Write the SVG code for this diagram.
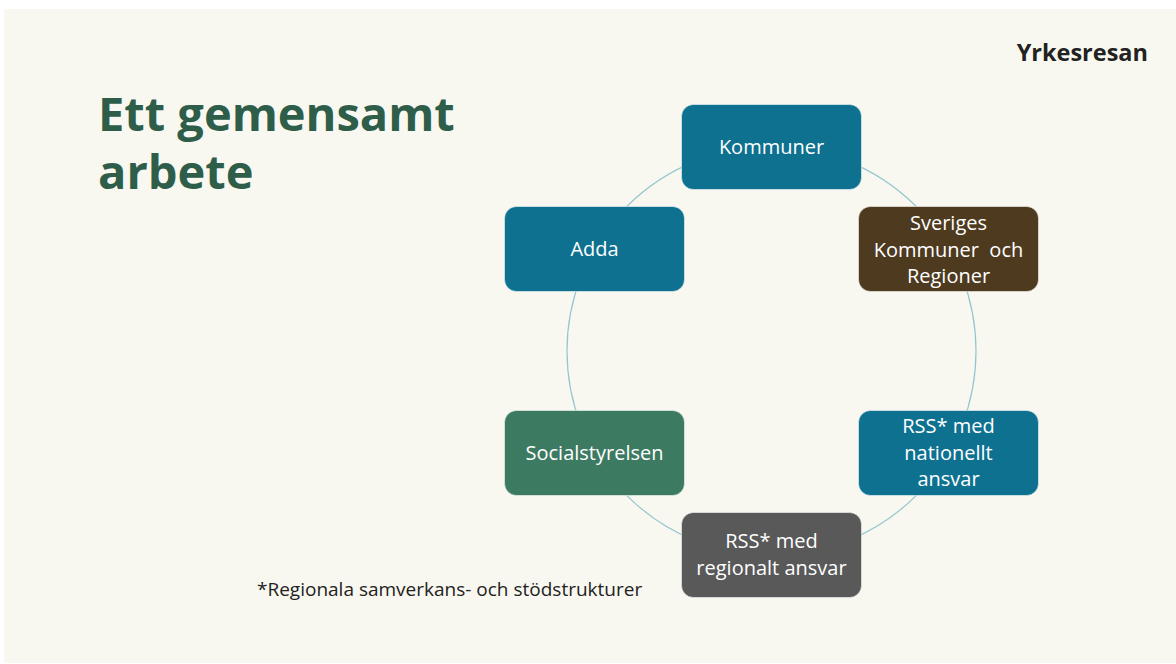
<svg xmlns="http://www.w3.org/2000/svg" width="1176" height="664" viewBox="0 0 1176 664">
<style>
.node rect{stroke:#ffffff;stroke-opacity:0.55;stroke-width:1}
.lbl{font-family:"Open Sans","Liberation Sans",sans-serif;font-size:20px;fill:#ffffff;text-anchor:middle}
.title{font-family:"Open Sans","Liberation Sans",sans-serif;font-weight:bold;font-size:47px;fill:#2e5e4a}
</style>
<rect x="0" y="0" width="1176" height="664" fill="#ffffff"/>
<rect x="4" y="9" width="1172" height="654" fill="#f9f8f0"/>
<text class="title" x="98" y="131">Ett gemensamt</text>
<text class="title" x="98" y="189">arbete</text>
<text x="1148" y="61" text-anchor="end" font-family="Open Sans, Liberation Sans, sans-serif" font-weight="bold" font-size="23.5" fill="#222222">Yrkesresan</text>
<text x="257" y="596" font-family="Open Sans, Liberation Sans, sans-serif" font-size="19" fill="#222222">*Regionala samverkans- och stödstrukturer</text>
<g id="connectors">
<circle cx="771.5" cy="351" r="204.5" fill="none" stroke="#94c6cf" stroke-width="1.2"/>
</g>
<g id="kommuner" class="node">
<rect x="681.5" y="104.5" width="180" height="85" rx="12" fill="#0e7190"/>
<text class="lbl" x="771.5" y="153.5">Kommuner</text>
</g>
<g id="skr" class="node">
<rect x="858.5" y="206.5" width="180" height="85" rx="12" fill="#4e3a1f"/>
<text class="lbl" x="948.5" y="230">Sveriges</text>
<text class="lbl" x="948.5" y="257" xml:space="preserve">Kommuner  och</text>
<text class="lbl" x="948.5" y="283">Regioner</text>
</g>
<g id="adda" class="node">
<rect x="504.5" y="206.5" width="180" height="85" rx="12" fill="#0e7190"/>
<text class="lbl" x="594.5" y="256">Adda</text>
</g>
<g id="socialstyrelsen" class="node">
<rect x="504.5" y="410.5" width="180" height="85" rx="12" fill="#3d7a62"/>
<text class="lbl" x="594.5" y="460">Socialstyrelsen</text>
</g>
<g id="rss-nationellt" class="node">
<rect x="858.5" y="410.5" width="180" height="85" rx="12" fill="#0e7190"/>
<text class="lbl" x="948.5" y="433">RSS* med</text>
<text class="lbl" x="948.5" y="460">nationellt</text>
<text class="lbl" x="948.5" y="486">ansvar</text>
</g>
<g id="rss-regionalt" class="node">
<rect x="681.5" y="512.5" width="180" height="85" rx="12" fill="#595959"/>
<text class="lbl" x="771.5" y="548">RSS* med</text>
<text class="lbl" x="771.5" y="575">regionalt ansvar</text>
</g>
</svg>
